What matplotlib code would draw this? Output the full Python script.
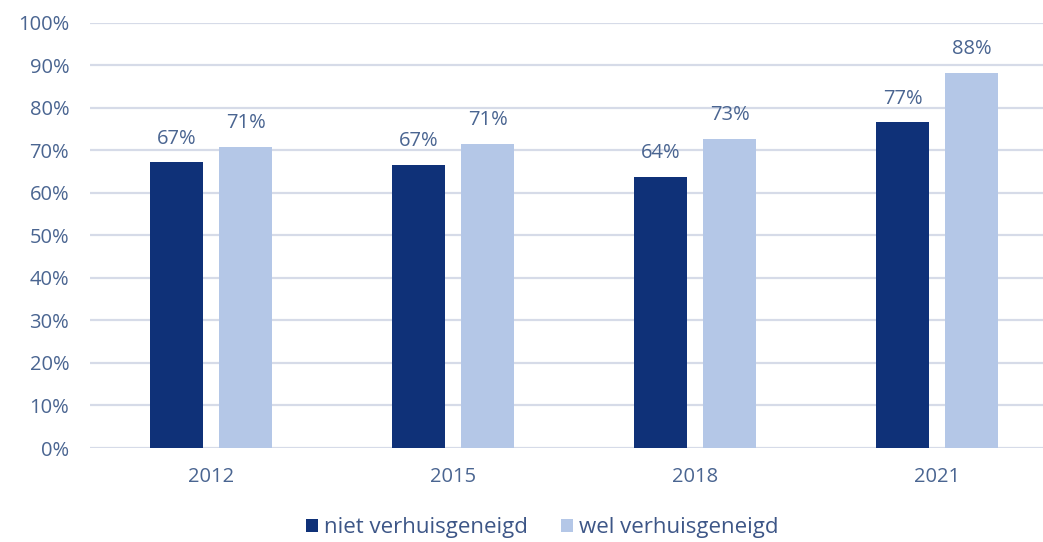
import matplotlib.pyplot as plt
import numpy as np

years = ["2012", "2015", "2018", "2021"]
niet = [67.1, 66.5, 63.8, 76.5]
wel = [70.7, 71.4, 72.6, 88.2]
niet_labels = ["67%", "67%", "64%", "77%"]
wel_labels = ["71%", "71%", "73%", "88%"]

dark = "#0f3178"
light = "#b4c7e7"
txt = "#4a6591"

plt.rcParams['font.family'] = ['Open Sans', 'DejaVu Sans']

fig = plt.figure(figsize=(10.43, 5.42), dpi=100)
ax = fig.add_axes([90 / 1043, 94 / 542, 968 / 1043, 425.5 / 542])

x = np.arange(len(years))
w = 0.219
off = 0.1426
b1 = ax.bar(x - off, niet, w, color=dark, label="niet verhuisgeneigd", zorder=3)
b2 = ax.bar(x + off, wel, w, color=light, label="wel verhuisgeneigd", zorder=3)

for bars, labs in ((b1, niet_labels), (b2, wel_labels)):
    for rect, lab in zip(bars, labs):
        ax.annotate(lab, (rect.get_x() + rect.get_width() / 2, rect.get_height()),
                    xytext=(0, 10), textcoords="offset points", ha="center", va="bottom",
                    fontsize=14.5, color=txt)

ax.set_xlim(-0.5, 3.5)
ax.set_ylim(0, 100)
ax.set_yticks(range(0, 101, 10))
ax.set_yticklabels([f"{v}%" for v in range(0, 101, 10)])
ax.set_xticks(x)
ax.set_xticklabels(years)
ax.tick_params(axis="both", length=0, labelsize=14.5, colors=txt)
ax.tick_params(axis="x", pad=14)
ax.tick_params(axis="y", pad=15)
ax.grid(axis="y", color="#d6dbe8", linewidth=1.6, zorder=0)
for s in ax.spines.values():
    s.set_visible(False)

fig.legend(handles=[b1, b2], loc="center", bbox_to_anchor=(542 / 1043, 14 / 542),
           ncol=2, frameon=False, fontsize=16, labelcolor="#3d5687",
           handlelength=0.55, handleheight=0.55, handletextpad=0.25, columnspacing=1.5)

fig.savefig("out.png", dpi=100)
